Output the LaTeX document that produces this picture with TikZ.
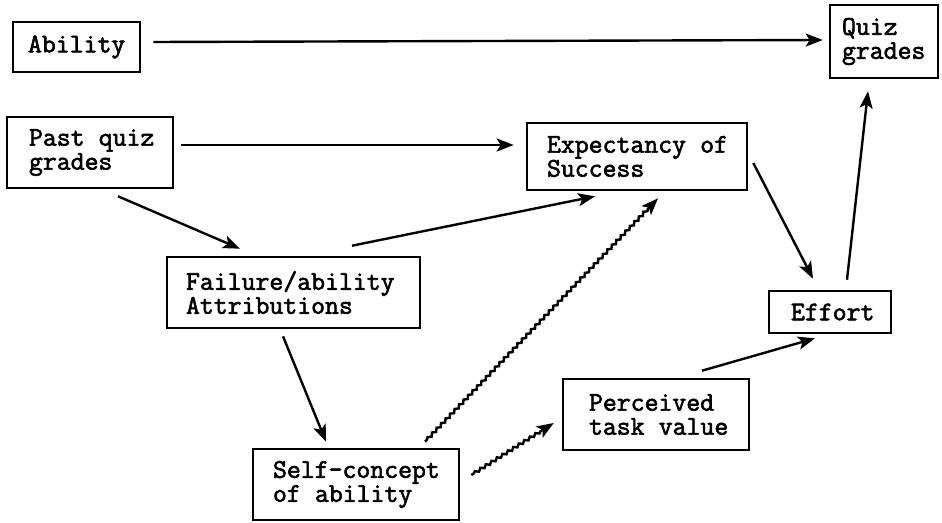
\documentclass[tikz,border=0pt]{standalone}
\usepackage{fontspec}
\newfontfamily\tw{Latin Modern Mono}[FakeBold=2.2]
\newcommand\tsp{\hspace*{0.525em}}
\usetikzlibrary{arrows.meta,calc,decorations.pathmorphing}
\tikzset{
  box/.style={draw, line width=2.6pt, inner sep=0pt, align=left,
    font=\tw\fontsize{27}{24}\selectfont},
  conn/.style={line width=2.4pt, -{Stealth[length=17pt,width=13pt,inset=4pt]}},
  wavy/.style={conn, decorate, decoration={snake, amplitude=1.3pt, segment length=6.5pt, pre length=3pt, post length=14pt}}
}
\begin{document}
\begin{tikzpicture}[x=1pt,y=-1pt]
\useasboundingbox (0,0) rectangle (942,522);
\node[box, minimum width=127, minimum height=50, text width=97] (ab) at (76.5,47) {\mbox{Ability}};
\node[box, minimum width=166, minimum height=71, text width=122] (pq) at (90,152.5) {\mbox{Past\tsp quiz}\\\mbox{grades}};
\node[box, minimum width=108, minimum height=73, text width=84] (qg) at (884,41.5) {\mbox{Quiz}\\\mbox{grades}};
\node[box, minimum width=220, minimum height=67, text width=180] (ex) at (637,156.5) {\mbox{Expectancy\tsp of}\\\mbox{Success}};
\node[box, minimum width=253, minimum height=71, text width=215] (fa) at (293.5,292.5) {\mbox{Failure/ability}\\\mbox{Attributions}};
\node[box, minimum width=206, minimum height=71, text width=166] (sc) at (356,484.5) {\mbox{Self-concept}\\\mbox{of\tsp ability}};
\node[box, minimum width=186, minimum height=71, text width=134] (pt) at (656,414.5) {\mbox{Perceived}\\\mbox{task\tsp value}};
\node[box, minimum width=122, minimum height=42, text width=78] (ef) at (830,312) {\mbox{Effort}};

\draw[conn] ($(ab.east)+(12,-5)$) -- ($(qg.west)+(-6,-1.5)$);
\draw[conn] ($(pq.east)+(7,-7.5)$) -- ($(ex.west)+(-12,-11.5)$);
\draw[conn] ($(pq.south)+(28,7)$) -- ($(fa.north)+(-53.5,-7)$);
\draw[conn] ($(fa.north)+(58.5,-10)$) -- ($(ex.south)+(-42,5)$);
\draw[conn] ($(fa.south)+(-10.5,7)$) -- ($(sc.north)+(-30,-6)$);
\draw[wavy] ($(sc.north)+(69,-6)$) -- ($(ex.south)+(21,7)$);
\draw[wavy] ($(sc.east)+(11,-9.5)$) -- ($(pt.west)+(-8,8.5)$);
\draw[conn] ($(ex.east)+(5,6.5)$) -- ($(ef.north)+(-17,-11)$);
\draw[conn] ($(pt.north)+(46,-7)$) -- ($(ef.south)+(-15,4)$);
\draw[conn] ($(ef.north)+(17,-10)$) -- ($(qg.south)+(-16,12)$);
\end{tikzpicture}
\end{document}
